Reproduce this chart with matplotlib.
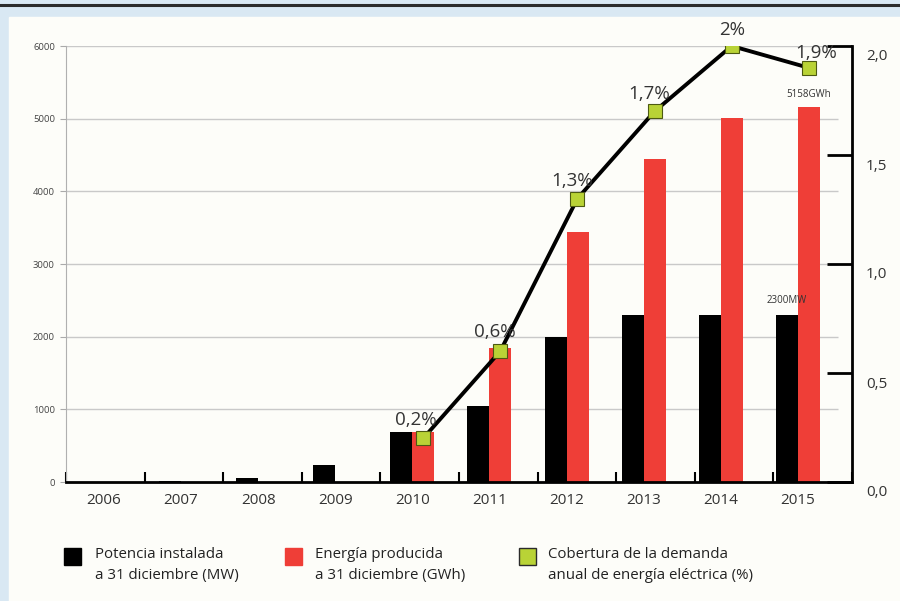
import numpy as np
import matplotlib
matplotlib.use("Agg")
import matplotlib.pyplot as plt
from matplotlib.patches import Rectangle
from matplotlib.lines import Line2D
from matplotlib.transforms import ScaledTranslation

plt.rcParams['font.family'] = ['Open Sans', 'DejaVu Sans']

years = ['2006', '2007', '2008', '2009', '2010', '2011', '2012', '2013', '2014', '2015']
potencia_mw = [0, 11, 61, 232, 690, 1050, 2000, 2300, 2300, 2300]
energia_gwh = [0, 0, 0, 0, 690, 1840, 3440, 4450, 5010, 5158]
cobertura_years = ['2010', '2011', '2012', '2013', '2014', '2015']
cobertura_pct = [0.2, 0.6, 1.3, 1.7, 2.0, 1.9]
cobertura_txt = ['0,2%', '0,6%', '1,3%', '1,7%', '2%', '1,9%']

W, H = 900, 601
fig = plt.figure(figsize=(9, 6.01), dpi=100, facecolor='#d9e8f3')

def fx(px):
    return px / W

def fy(py):
    return 1 - py / H

# white panel and header rule
fig.add_artist(Rectangle((fx(9), 0), 1 - fx(9), fy(17), color='#fdfdf9', zorder=0))
fig.add_artist(Line2D([0, 1], [fy(4.5), fy(4.5)], color='#2b2b2b', lw=2.2))

ax = fig.add_axes([fx(66), fy(482), fx(852) - fx(66), fy(46) - fy(482)])
ax.set_facecolor('none')
x = np.arange(len(years))
bw = 0.285
ax.bar(x - bw / 2, potencia_mw, bw, color='black', zorder=2)
ax.bar(x + bw / 2, energia_gwh, bw, color='#ef3e37', zorder=2)
ax.set_xlim(-0.49, 9.70)
ax.set_ylim(0, 6000)
ax.set_yticks(np.arange(0, 6001, 1000))
ax.hlines(np.arange(1000, 6001, 1000), -0.49, 9.52, color='#c9c9c9', lw=1, zorder=1)

ax.set_xticks(x)
ax.set_xticklabels(years, fontsize=11, color='#333333')
ax.set_xticks(np.linspace(-0.49, 9.70, 11), minor=True)
ax.tick_params(axis='x', which='major', length=0, pad=8)
ax.tick_params(axis='x', which='minor', direction='in', length=7, width=1.5, color='black')
ax.tick_params(axis='y', labelsize=6.8, labelcolor='#444444', length=4, color='#aaaaaa', width=0.8, pad=4)
for side in ['top', 'right']:
    ax.spines[side].set_visible(False)
ax.spines['left'].set_color('#b0b0b0')
ax.spines['left'].set_linewidth(0.8)
ax.spines['bottom'].set_color('black')
ax.spines['bottom'].set_linewidth(2)

ax.text(x[9] + bw / 2, energia_gwh[9] + 100, f'{energia_gwh[9]}GWh', ha='center', va='bottom',
        fontsize=7, color='#333333')
ax.text(x[9] - bw / 2, potencia_mw[9] + 120, f'{potencia_mw[9]}MW', ha='center', va='bottom',
        fontsize=7, color='#333333')

ax2 = ax.twinx()
ax2.set_ylim(0, 2)
ax2.set_yticks(np.arange(0, 2.01, 0.5))
ax2.set_yticklabels(['0,0', '0,5', '1,0', '1,5', '2,0'])
ax2.tick_params(axis='y', direction='in', length=18, width=2, color='black',
                labelsize=11, labelcolor='#333333', pad=10)
for lab in ax2.get_yticklabels():
    lab.set_transform(lab.get_transform() + ScaledTranslation(0, -0.09, fig.dpi_scale_trans))
for side in ['top', 'left', 'bottom']:
    ax2.spines[side].set_visible(False)
ax2.spines['right'].set_linewidth(2)
ax2.spines['right'].set_color('black')

lx = [years.index(y) + 0.14 for y in cobertura_years]
ax2.plot(lx, cobertura_pct, color='black', lw=2.8, marker='s', markersize=10,
         markerfacecolor='#b9d336', markeredgecolor='#4d5a12', markeredgewidth=0.8, zorder=3)
offsets = [(-5, 7), (-4, 7), (-4, 6), (-4, 6), (0, 5), (5, 4)]
for xi, yi, t, off in zip(lx, cobertura_pct, cobertura_txt, offsets):
    ax2.annotate(t, (xi, yi), xytext=off, textcoords='offset points', ha='center', va='bottom',
                 fontsize=13.5, color='#333333')

# legend
legend_items = [
    (64, 95, 'black', 'black', 'Potencia instalada\na 31 diciembre (MW)'),
    (285, 315, '#ef3e37', '#ef3e37', 'Energía producida\na 31 diciembre (GWh)'),
    (519, 548, '#b9d336', '#2b2b2b', 'Cobertura de la demanda\nanual de energía eléctrica (%)'),
]
for sx, tx, fc, ec, label in legend_items:
    fig.add_artist(Rectangle((fx(sx), fy(565)), fx(17), 17 / H, facecolor=fc, edgecolor=ec, lw=1))
    fig.text(fx(tx), fy(565), label, ha='left', va='center', fontsize=10.8, color='#222222',
             linespacing=1.5)

fig.savefig('out.png', dpi=100, facecolor=fig.get_facecolor())
